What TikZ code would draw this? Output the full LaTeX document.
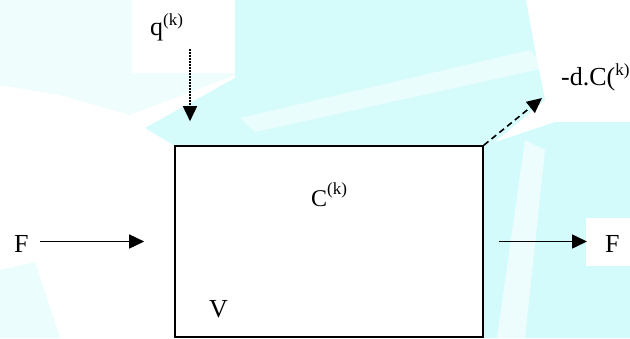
\documentclass[tikz,border=0pt]{standalone}
\usepackage{fontspec}
\setmainfont{Liberation Serif}
\usetikzlibrary{arrows.meta}
\definecolor{bgcyan}{RGB}{204,250,250}
\newcommand\supk[2]{\raisebox{#1}{\fontsize{17}{17}\selectfont #2}}
\tikzset{
  lbl/.style={inner sep=0pt, font=\fontsize{26}{30}\selectfont},
  arr/.style={line width=1.6pt, -{Triangle[length=15pt,width=14pt]}},
  darr/.style={arr, dash pattern=on 6pt off 4pt},
  qarr/.style={arr, dash pattern=on 1.6pt off 1.4pt},
  boxstyle/.style={draw, line width=1.6pt, fill=white, minimum width=308pt, minimum height=191pt, inner sep=0pt}
}
\begin{document}
\begin{tikzpicture}[x=1pt,y=-1pt]
\useasboundingbox (0,0) rectangle (630,338);
% background watermark
\fill[white] (0,0) rectangle (630,338);
\fill[bgcyan!30] (0,0) -- (235,0) -- (235,75) -- (130,115) -- (60,95) -- (0,85) -- cycle;
\fill[bgcyan!80] (235,0) -- (526,0) -- (535,50) -- (545,100) -- (490,146) -- (175,146) -- (145,128) -- (235,78) -- cycle;
\fill[white,opacity=0.5] (240,118) -- (530,50) -- (545,68) -- (255,132) -- cycle;
\fill[bgcyan!85] (483,146) -- (555,122) -- (630,122) -- (630,338) -- (483,338) -- cycle;
\fill[white,opacity=0.6] (497,338) -- (525,338) -- (545,150) -- (525,140) -- cycle;
\fill[white] (586,218) rectangle (630,266);
\fill[bgcyan!40] (0,270) -- (35,262) -- (60,338) -- (0,338) -- cycle;
\fill[white] (132,0) rectangle (235,73);
% nodes
\node[boxstyle] (box) at (329,241.5) {};
\node[lbl, font=\fontsize{24}{28}\selectfont, anchor=base west] (ck) at (311,206) {C\supk{12pt}{(k)}};
\node[lbl, anchor=base west] (v) at (209,317) {V};
\node[lbl, anchor=base west] (fl) at (14,252) {F};
\node[lbl, anchor=base west] (fr) at (605,252) {F};
\node[lbl, anchor=base west] (q) at (150,35) {q\supk{10pt}{(k)}};
\node[lbl, anchor=base west] (dc) at (561,85) {-d.C(\supk{10pt}{k)}};
\coordinate (qa) at (190,49);
\coordinate (dtip) at (542,98);
% connectors
\draw[arr, shorten <=11pt, shorten >=30pt] (fl.east |- box.west) -- (box.west);
\draw[arr, shorten <=15pt, shorten >=18pt] (box.east) -- (box.east -| fr.west);
\draw[qarr, shorten >=24pt] (qa) -- (qa |- box.north);
\draw[darr] (box.north east) -- (dtip);
\end{tikzpicture}
\end{document}
